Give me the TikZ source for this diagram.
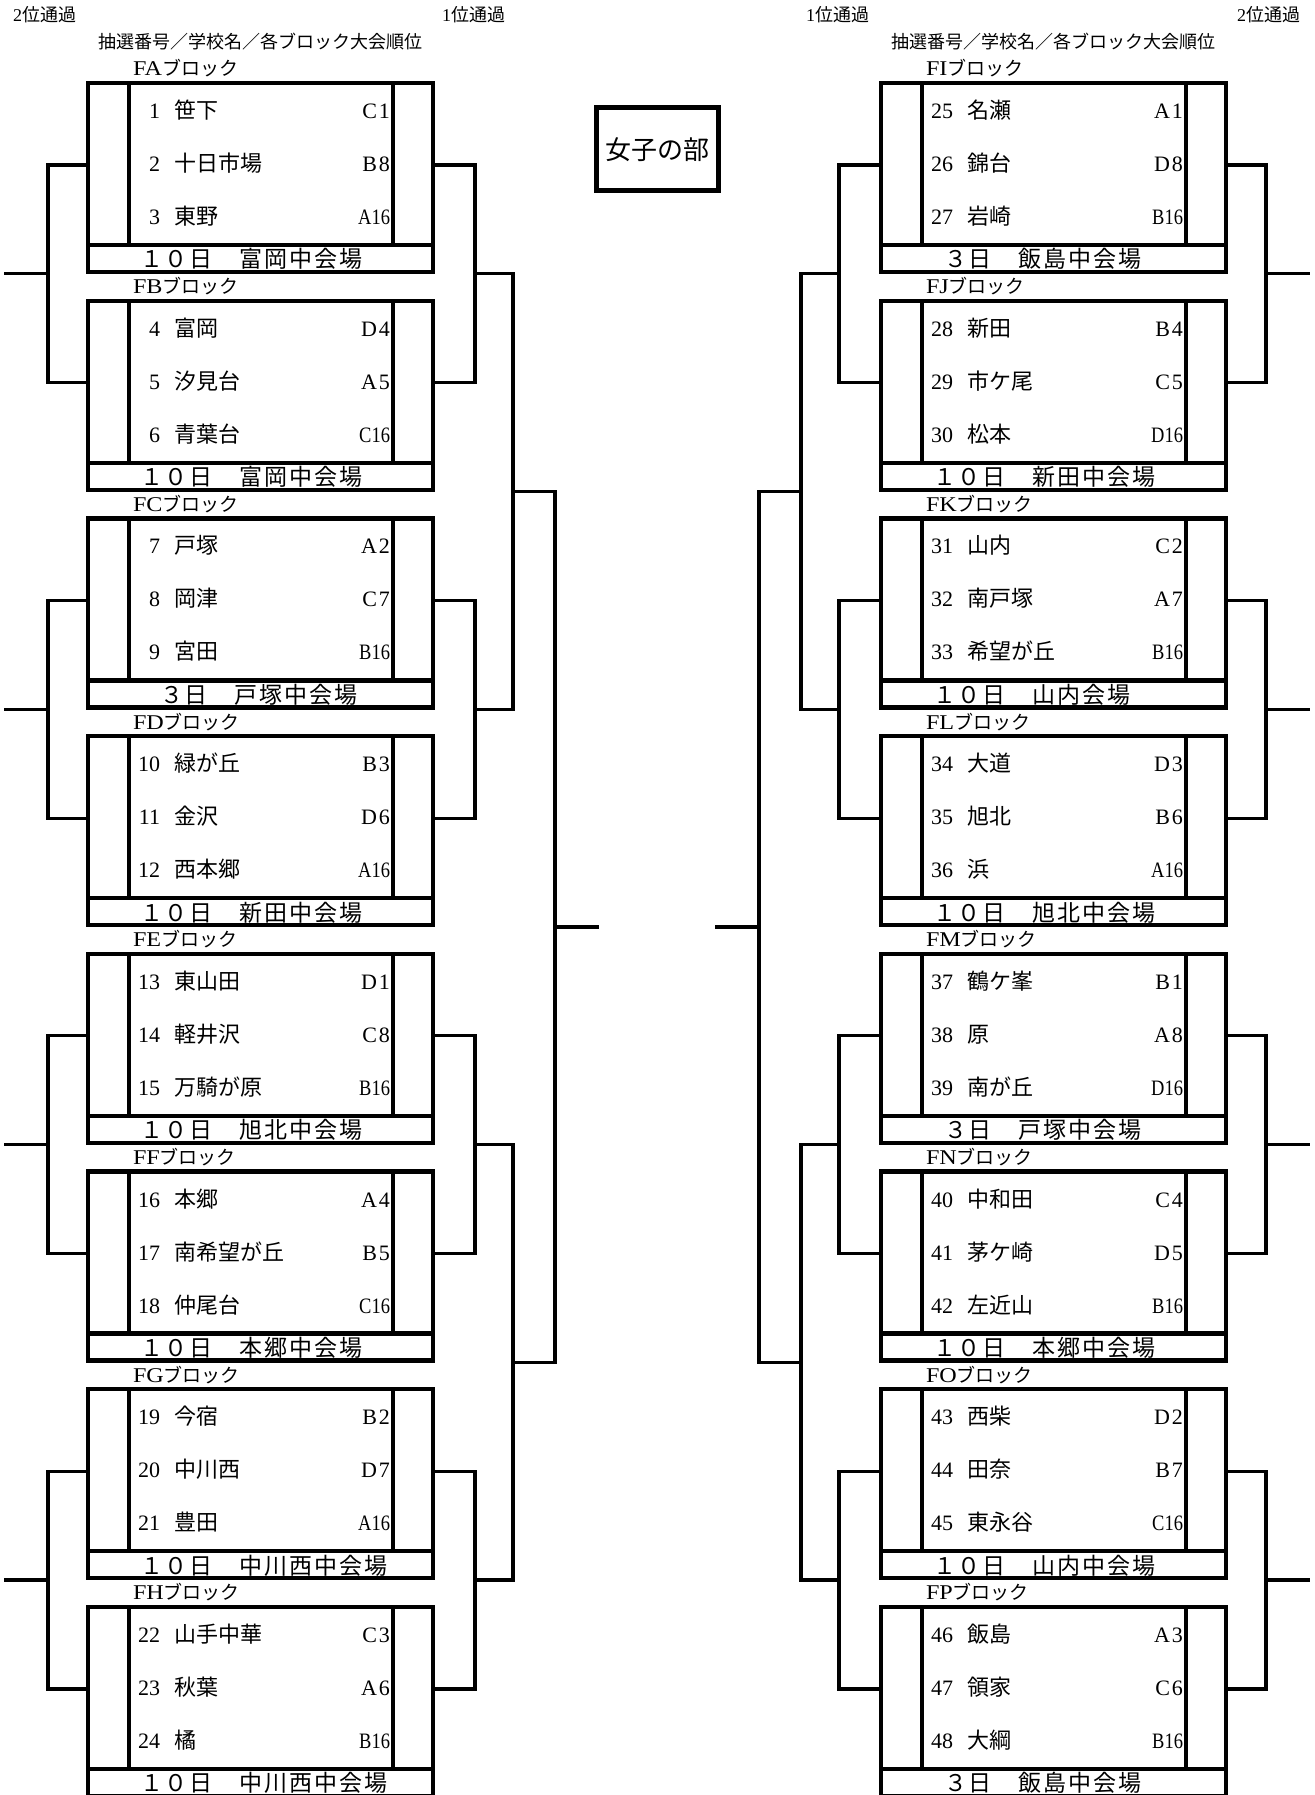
\documentclass[tikz,border=0pt]{standalone}
\usepackage{fontspec}
\setmainfont{Liberation Serif}
\newfontfamily\jp{Noto Sans CJK JP}
\usepackage{graphicx}
\usetikzlibrary{calc}
\newcommand\rs[2]{#1\kern2pt#2}
\newcommand\rl[1]{\scalebox{0.84}[1]{#1}}
\newcommand\fsz[1]{\fontsize{#1}{#1}\selectfont}
\makeatletter
\newcommand\spacedtxt[1]{\@tfor\spc:=#1\do{\spc\kern2pt}}
\makeatother
\tikzset{
  boxline/.style={line width=4.4pt},
  brline/.style={line width=3.2pt, line cap=rect},
  txt/.style={inner sep=0pt, outer sep=0pt},
  rowfont/.style={font=\fsz{22}},
  venfont/.style={font=\jp\fsz{23}},
  labfont/.style={font=\fsz{21}},
  hdrfont/.style={font=\fsz{18}},
}
\begin{document}
\begin{tikzpicture}[x=1pt,y=-1pt]
\fill[white] (0,0) rectangle (1314,1795);
\useasboundingbox (0,0) rectangle (1314,1795);

% headers
\node[txt, hdrfont, anchor=base west] (pL2) at (13,22) {2{\jp 位通過}};
\node[txt, hdrfont, anchor=base west] (pL1) at (442,22) {1{\jp 位通過}};
\node[txt, hdrfont, anchor=base west] (pR1) at (806,22) {1{\jp 位通過}};
\node[txt, hdrfont, anchor=base west] (pR2) at (1237,22) {2{\jp 位通過}};
\node[txt, hdrfont, anchor=base west] (hL) at (98,49) {\jp 抽選番号／学校名／各ブロック大会順位};
\node[txt, hdrfont, anchor=base west] (hR) at (891,49) {\jp 抽選番号／学校名／各ブロック大会順位};

% title
\node[draw, line width=5pt, minimum width=122pt, minimum height=83pt, inner sep=0pt, font=\jp\fsz{26}] (title) at (657,149.5) {女子の部};

% blocks
\foreach \b/\lab/\ven/\vo in {0/FA/１０日　富岡中会場/52, 1/FB/１０日　富岡中会場/52, 2/FC/３日　戸塚中会場/72, 3/FD/１０日　新田中会場/52, 4/FE/１０日　旭北中会場/52, 5/FF/１０日　本郷中会場/52, 6/FG/１０日　中川西中会場/52, 7/FH/１０日　中川西中会場/52, 8/FI/３日　飯島中会場/63, 9/FJ/１０日　新田中会場/52, 10/FK/１０日　山内会場/52, 11/FL/１０日　旭北中会場/52, 12/FM/３日　戸塚中会場/63, 13/FN/１０日　本郷中会場/52, 14/FO/１０日　山内中会場/52, 15/FP/３日　飯島中会場/63}{
  \pgfmathsetmacro\xo{\b<8 ? 88 : 881}
  \pgfmathsetmacro\T{83+217.7*mod(\b,8)}
  \draw[boxline] (\xo,\T) rectangle (\xo+345,\T+189);
  \draw[boxline] (\xo,\T+162) -- (\xo+345,\T+162);
  \draw[boxline] (\xo+41,\T) -- (\xo+41,\T+164);
  \draw[boxline] (\xo+305,\T) -- (\xo+305,\T+164);
  \node[txt, labfont, anchor=base west] (lab\b) at (\xo+45,\T-7) {\scalebox{1.15}[1]{\lab}{\jp\fsz{19}ブロック}};
  \node[txt, venfont, anchor=base west] (ven\b) at (\xo+\vo,\T+185) {\expandafter\spacedtxt\expandafter{\ven}};
  \coordinate (cl\b) at (\xo,\T+82);
  \coordinate (cr\b) at (\xo+345,\T+82);
}

% rows
\foreach \b/\r/\num/\nm/\rk in {
0/0/1/笹下/\rs C1, 0/1/2/十日市場/\rs B8, 0/2/3/東野/\rl{A16},
1/0/4/富岡/\rs D4, 1/1/5/汐見台/\rs A5, 1/2/6/青葉台/\rl{C16},
2/0/7/戸塚/\rs A2, 2/1/8/岡津/\rs C7, 2/2/9/宮田/\rl{B16},
3/0/10/緑が丘/\rs B3, 3/1/11/金沢/\rs D6, 3/2/12/西本郷/\rl{A16},
4/0/13/東山田/\rs D1, 4/1/14/軽井沢/\rs C8, 4/2/15/万騎が原/\rl{B16},
5/0/16/本郷/\rs A4, 5/1/17/南希望が丘/\rs B5, 5/2/18/仲尾台/\rl{C16},
6/0/19/今宿/\rs B2, 6/1/20/中川西/\rs D7, 6/2/21/豊田/\rl{A16},
7/0/22/山手中華/\rs C3, 7/1/23/秋葉/\rs A6, 7/2/24/橘/\rl{B16},
8/0/25/名瀬/\rs A1, 8/1/26/錦台/\rs D8, 8/2/27/岩崎/\rl{B16},
9/0/28/新田/\rs B4, 9/1/29/市ケ尾/\rs C5, 9/2/30/松本/\rl{D16},
10/0/31/山内/\rs C2, 10/1/32/南戸塚/\rs A7, 10/2/33/希望が丘/\rl{B16},
11/0/34/大道/\rs D3, 11/1/35/旭北/\rs B6, 11/2/36/浜/\rl{A16},
12/0/37/鶴ケ峯/\rs B1, 12/1/38/原/\rs A8, 12/2/39/南が丘/\rl{D16},
13/0/40/中和田/\rs C4, 13/1/41/茅ケ崎/\rs D5, 13/2/42/左近山/\rl{B16},
14/0/43/西柴/\rs D2, 14/1/44/田奈/\rs B7, 14/2/45/東永谷/\rl{C16},
15/0/46/飯島/\rs A3, 15/1/47/領家/\rs C6, 15/2/48/大綱/\rl{B16}}{
  \pgfmathsetmacro\xo{\b<8 ? 88 : 881}
  \pgfmathsetmacro\yb{83+217.7*mod(\b,8)+35.5+53*\r}
  \node[txt, rowfont, anchor=base east] (num\b-\r) at (\xo+72,\yb) {\num};
  \node[txt, rowfont, anchor=base west] (nm\b-\r) at (\xo+86,\yb) {\jp\nm};
  \node[txt, rowfont, anchor=base east] (rk\b-\r) at (\xo+302,\yb) {\rk};
}

% bracket x positions
\coordinate (xLO) at (6,0);
\coordinate (xLL) at (48,0);
\coordinate (xL1) at (475,0);
\coordinate (xL2) at (513,0);
\coordinate (xL3) at (555,0);
\coordinate (xLE) at (597,0);
\coordinate (xRO) at (1308,0);
\coordinate (xRR) at (1266,0);
\coordinate (xR1) at (839,0);
\coordinate (xR2) at (801,0);
\coordinate (xR3) at (759,0);
\coordinate (xRE) at (717,0);

% left half, first level
\foreach \a/\c/\j in {0/1/0, 2/3/1, 4/5/2, 6/7/3}{
  \coordinate (LP\j) at ($(cl\a)!0.5!(cl\c)$);
  \draw[brline] (cl\a) -- (cl\a -| xLL) -- (cl\c -| xLL) -- (cl\c);
  \draw[brline] (LP\j -| xLL) -- (LP\j -| xLO);
  \draw[brline] (cr\a) -- (cr\a -| xL1) -- (cr\c -| xL1) -- (cr\c);
  \draw[brline] (LP\j -| xL1) -- (LP\j -| xL2);
}
% right half, first level
\foreach \a/\c/\j in {8/9/0, 10/11/1, 12/13/2, 14/15/3}{
  \coordinate (RP\j) at ($(cl\a)!0.5!(cl\c)$);
  \draw[brline] (cr\a) -- (cr\a -| xRR) -- (cr\c -| xRR) -- (cr\c);
  \draw[brline] (RP\j -| xRR) -- (RP\j -| xRO);
  \draw[brline] (cl\a) -- (cl\a -| xR1) -- (cl\c -| xR1) -- (cl\c);
  \draw[brline] (RP\j -| xR1) -- (RP\j -| xR2);
}
% second level
\foreach \a/\c/\j in {0/1/0, 2/3/1}{
  \coordinate (LQ\j) at ($(LP\a)!0.5!(LP\c)$);
  \draw[brline] (LP\a -| xL2) -- (LP\c -| xL2);
  \draw[brline] (LQ\j -| xL2) -- (LQ\j -| xL3);
  \coordinate (RQ\j) at ($(RP\a)!0.5!(RP\c)$);
  \draw[brline] (RP\a -| xR2) -- (RP\c -| xR2);
  \draw[brline] (RQ\j -| xR2) -- (RQ\j -| xR3);
}
% third level
\coordinate (LR) at ($(LQ0)!0.5!(LQ1)$);
\draw[brline] (LQ0 -| xL3) -- (LQ1 -| xL3);
\draw[brline] (LR -| xL3) -- (LR -| xLE);
\coordinate (RR) at ($(RQ0)!0.5!(RQ1)$);
\draw[brline] (RQ0 -| xR3) -- (RQ1 -| xR3);
\draw[brline] (RR -| xR3) -- (RR -| xRE);
\end{tikzpicture}
\end{document}
